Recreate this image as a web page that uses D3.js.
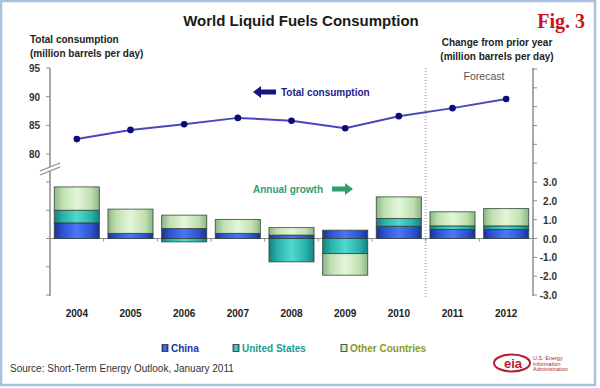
<!DOCTYPE html>
<html>
<head>
<meta charset="utf-8">
<script src="https://cdn.jsdelivr.net/npm/d3@7"></script>
<style>
  body { margin: 0; background: #fff; }
  text { font-family: Arial, "Liberation Sans", sans-serif; }
</style>
</head>
<body>
<div id="chart"></div>
<script>
var years = ['2004', '2005', '2006', '2007', '2008', '2009', '2010', '2011', '2012'];
var totalConsumption = [82.6, 84.2, 85.2, 86.3, 85.8, 84.5, 86.6, 88.0, 89.6];
var chinaGrowth = [0.83, 0.27, 0.53, 0.27, 0.18, 0.44, 0.65, 0.48, 0.48];
var usGrowth = [0.67, 0.0, -0.18, 0.0, -1.24, -0.80, 0.41, 0.19, 0.19];
var otherGrowth = [1.24, 1.29, 0.71, 0.74, 0.40, -1.15, 1.15, 0.75, 0.92];
var leftTicks = [80, 85, 90, 95];
var rightTicks = [-3, -2, -1, 0, 1, 2, 3];
var seriesNames = ['China', 'United States', 'Other Countries'];

var width = 600;
var height = 388;

var svg = d3.select('#chart')
  .append('svg')
  .attr('width', width)
  .attr('height', height);

// frame
svg.append('rect')
  .attr('x', 1).attr('y', 1)
  .attr('width', 594).attr('height', 384)
  .attr('fill', '#fff')
  .attr('stroke', '#a9c0de')
  .attr('stroke-width', 2.5);

var x = d3.scaleBand()
  .domain(years)
  .range([50, 533])
  .paddingInner(0.16)
  .paddingOuter(0.08);

var yLeft = d3.scaleLinear().domain([80, 95]).range([154, 68]);
var yGrowth = d3.scaleLinear().domain([-3, 3]).range([295, 182]);

// gradients
var defs = svg.append('defs');
var grads = [
  { id: 'gChina', dark: '#1b3291', mid: '#2d52d2', light: '#4a78f4' },
  { id: 'gUS', dark: '#15827c', mid: '#28b1ab', light: '#52d8ce' },
  { id: 'gOther', dark: '#8db489', mid: '#bfe0b0', light: '#e4f6da' }
];
grads.forEach(function(g) {
  var lg = defs.append('linearGradient').attr('id', g.id)
    .attr('x1', '0%').attr('x2', '100%').attr('y1', '0%').attr('y2', '0%');
  lg.append('stop').attr('offset', '0%').attr('stop-color', g.dark);
  lg.append('stop').attr('offset', '18%').attr('stop-color', g.mid);
  lg.append('stop').attr('offset', '50%').attr('stop-color', g.light);
  lg.append('stop').attr('offset', '82%').attr('stop-color', g.mid);
  lg.append('stop').attr('offset', '100%').attr('stop-color', g.dark);
});
var fills = ['url(#gChina)', 'url(#gUS)', 'url(#gOther)'];

// title
svg.append('text')
  .attr('x', 301).attr('y', 26)
  .attr('text-anchor', 'middle')
  .attr('font-size', 15).attr('font-weight', 'bold')
  .attr('fill', '#1a1a1a')
  .text('World Liquid Fuels Consumption');

svg.append('text')
  .attr('x', 585).attr('y', 28)
  .attr('text-anchor', 'end')
  .attr('font-family', '"Liberation Serif", "DejaVu Serif", serif')
  .style('font-family', '"Liberation Serif", serif')
  .attr('font-size', 20).attr('font-weight', 'bold')
  .attr('fill', '#c8141e')
  .text('Fig. 3');

// axis titles
svg.append('text').attr('x', 30).attr('y', 43)
  .attr('font-size', 10).attr('font-weight', 'bold').attr('fill', '#222')
  .text('Total consumption');
svg.append('text').attr('x', 30).attr('y', 57)
  .attr('font-size', 10).attr('font-weight', 'bold').attr('fill', '#222')
  .text('(million barrels per day)');
svg.append('text').attr('x', 497).attr('y', 46)
  .attr('text-anchor', 'middle')
  .attr('font-size', 10).attr('font-weight', 'bold').attr('fill', '#222')
  .text('Change from prior year');
svg.append('text').attr('x', 497).attr('y', 60)
  .attr('text-anchor', 'middle')
  .attr('font-size', 10).attr('font-weight', 'bold').attr('fill', '#222')
  .text('(million barrels per day)');

// forecast divider
var divX = x('2011') - (x.step() - x.bandwidth()) / 2;
svg.append('line')
  .attr('x1', divX).attr('x2', divX)
  .attr('y1', 68).attr('y2', 298)
  .attr('stroke', '#b8b8b8')
  .attr('stroke-width', 2)
  .attr('stroke-dasharray', '1,2');
svg.append('text').attr('x', 484).attr('y', 80)
  .attr('text-anchor', 'middle')
  .attr('font-size', 10.5).attr('fill', '#555')
  .text('Forecast');

// left axis (total consumption)
var axisColor = '#8c8c8c';
var leftAxis = svg.append('g').attr('class', 'left-axis');
leftAxis.append('line')
  .attr('x1', 50).attr('x2', 50).attr('y1', 68).attr('y2', 296)
  .attr('stroke', axisColor).attr('stroke-width', 1.5);
leftAxis.selectAll('.lt').data(leftTicks).enter().append('line')
  .attr('x1', 46).attr('x2', 50)
  .attr('y1', function(d) { return yLeft(d); })
  .attr('y2', function(d) { return yLeft(d); })
  .attr('stroke', axisColor);
leftAxis.selectAll('.ll').data(leftTicks).enter().append('text')
  .attr('x', 40)
  .attr('y', function(d) { return yLeft(d) + 4; })
  .attr('text-anchor', 'end')
  .attr('font-size', 10).attr('font-weight', 'bold').attr('fill', '#333')
  .text(function(d) { return d; });
// lower ticks on left axis, no labels
leftAxis.selectAll('.lg').data([-3, -1.5, 0, 1.5, 3]).enter().append('line')
  .attr('x1', 46).attr('x2', 50)
  .attr('y1', function(d) { return yGrowth(d); })
  .attr('y2', function(d) { return yGrowth(d); })
  .attr('stroke', axisColor);
// axis break
leftAxis.append('polygon')
  .attr('points', '40,171 60,163 60,167 40,175')
  .attr('fill', '#fff');
leftAxis.append('line').attr('x1', 40).attr('y1', 171).attr('x2', 60).attr('y2', 163)
  .attr('stroke', axisColor).attr('stroke-width', 1.2);
leftAxis.append('line').attr('x1', 40).attr('y1', 175).attr('x2', 60).attr('y2', 167)
  .attr('stroke', axisColor).attr('stroke-width', 1.2);

// right axis (growth)
var rightAxis = svg.append('g').attr('class', 'right-axis');
rightAxis.append('line')
  .attr('x1', 533).attr('x2', 533).attr('y1', 68).attr('y2', 296)
  .attr('stroke', axisColor).attr('stroke-width', 1.5);
rightAxis.selectAll('.rt').data(d3.range(-3, 10)).enter().append('line')
  .attr('x1', 533).attr('x2', 537)
  .attr('y1', function(d) { return yGrowth(d); })
  .attr('y2', function(d) { return yGrowth(d); })
  .attr('stroke', axisColor);
rightAxis.selectAll('.rl').data(rightTicks).enter().append('text')
  .attr('x', 557)
  .attr('y', function(d) { return yGrowth(d) + 4; })
  .attr('text-anchor', 'end')
  .attr('font-size', 10).attr('font-weight', 'bold').attr('fill', '#333')
  .text(function(d) { return d.toFixed(1); });

// zero line with small ticks between categories
svg.append('line')
  .attr('x1', 50).attr('x2', 533)
  .attr('y1', yGrowth(0)).attr('y2', yGrowth(0))
  .attr('stroke', axisColor).attr('stroke-width', 1.2);
svg.selectAll('.xt').data(years.slice(1)).enter().append('line')
  .attr('x1', function(d) { return x(d) - (x.step() - x.bandwidth()) / 2; })
  .attr('x2', function(d) { return x(d) - (x.step() - x.bandwidth()) / 2; })
  .attr('y1', yGrowth(0)).attr('y2', yGrowth(0) + 3)
  .attr('stroke', axisColor);

// stacked growth bars
var table = years.map(function(y, i) {
  return { year: y, China: chinaGrowth[i], 'United States': usGrowth[i], 'Other Countries': otherGrowth[i] };
});
var stack = d3.stack()
  .keys(seriesNames)
  .offset(d3.stackOffsetDiverging);
var layers = stack(table);

svg.selectAll('.layer').data(layers).enter().append('g')
  .attr('class', 'layer')
  .attr('fill', function(d, i) { return fills[i]; })
  .selectAll('rect')
  .data(function(d) { return d.filter(function(p) { return p[1] !== p[0]; }); })
  .enter().append('rect')
  .attr('x', function(d) { return x(d.data.year); })
  .attr('width', x.bandwidth())
  .attr('y', function(d) { return yGrowth(Math.max(d[0], d[1])); })
  .attr('height', function(d) { return Math.abs(yGrowth(d[0]) - yGrowth(d[1])); })
  .attr('stroke', '#2b3b30')
  .attr('stroke-opacity', 0.75)
  .attr('stroke-width', 1);

// total consumption line
var line = d3.line()
  .x(function(d, i) { return x(years[i]) + x.bandwidth() / 2; })
  .y(function(d) { return yLeft(d); });
svg.append('path')
  .datum(totalConsumption)
  .attr('d', line)
  .attr('fill', 'none')
  .attr('stroke', '#4848bc')
  .attr('stroke-width', 2);
svg.selectAll('.pt').data(totalConsumption).enter().append('circle')
  .attr('cx', function(d, i) { return x(years[i]) + x.bandwidth() / 2; })
  .attr('cy', function(d) { return yLeft(d); })
  .attr('r', 3.3)
  .attr('fill', '#0c0c78');

// annotations
svg.append('path')
  .attr('d', 'M253,92 L261,86 L261,89.5 L276,89.5 L276,94.5 L261,94.5 L261,98 Z')
  .attr('fill', '#14147e');
svg.append('text').attr('x', 281).attr('y', 96)
  .attr('font-size', 10).attr('font-weight', 'bold').attr('fill', '#1c1c8c')
  .text('Total consumption');
svg.append('text').attr('x', 253).attr('y', 193)
  .attr('font-size', 10).attr('font-weight', 'bold').attr('fill', '#2f9f72')
  .text('Annual growth');
svg.append('path')
  .attr('d', 'M353,189 L345,183 L345,186.5 L332,186.5 L332,191.5 L345,191.5 L345,195 Z')
  .attr('fill', '#2f9f72');

// x labels
svg.selectAll('.xl').data(years).enter().append('text')
  .attr('x', function(d) { return x(d) + x.bandwidth() / 2; })
  .attr('y', 317)
  .attr('text-anchor', 'middle')
  .attr('font-size', 10).attr('font-weight', 'bold').attr('fill', '#222')
  .text(function(d) { return d; });

// legend
var legendX = [162, 233, 341];
var legendText = ['#2233aa', '#1a9c96', '#8a9a24'];
var legend = svg.selectAll('.lg-item').data(seriesNames).enter().append('g')
  .attr('transform', function(d, i) { return 'translate(' + legendX[i] + ',348)'; });
legend.append('rect')
  .attr('x', 0).attr('y', -3.5)
  .attr('width', 6).attr('height', 7)
  .attr('fill', function(d, i) { return fills[i]; })
  .attr('stroke', '#333').attr('stroke-width', 0.8);
legend.append('text')
  .attr('x', 9).attr('y', 4)
  .attr('font-size', 10).attr('font-weight', 'bold')
  .attr('fill', function(d, i) { return legendText[i]; })
  .text(function(d) { return d; });

// source
svg.append('text').attr('x', 10).attr('y', 372)
  .attr('font-size', 10).attr('fill', '#333')
  .text('Source: Short-Term Energy Outlook, January 2011');

// eia logo
var logo = svg.append('g').attr('transform', 'translate(512,363)');
logo.append('ellipse')
  .attr('rx', 18).attr('ry', 8.5)
  .attr('fill', 'none').attr('stroke', '#b51f2c').attr('stroke-width', 2);
logo.append('text')
  .attr('x', 1).attr('y', 4.5)
  .attr('text-anchor', 'middle')
  .attr('font-size', 13).attr('font-weight', 'bold').attr('fill', '#b51f2c')
  .text('eia');
var logoLines = ['U.S. Energy', 'Information', 'Administration'];
logo.selectAll('.ll').data(logoLines).enter().append('text')
  .attr('x', 21)
  .attr('y', function(d, i) { return -3 + i * 5.5; })
  .attr('font-size', 5.5).attr('fill', '#b51f2c')
  .text(function(d) { return d; });
</script>
</body>
</html>
